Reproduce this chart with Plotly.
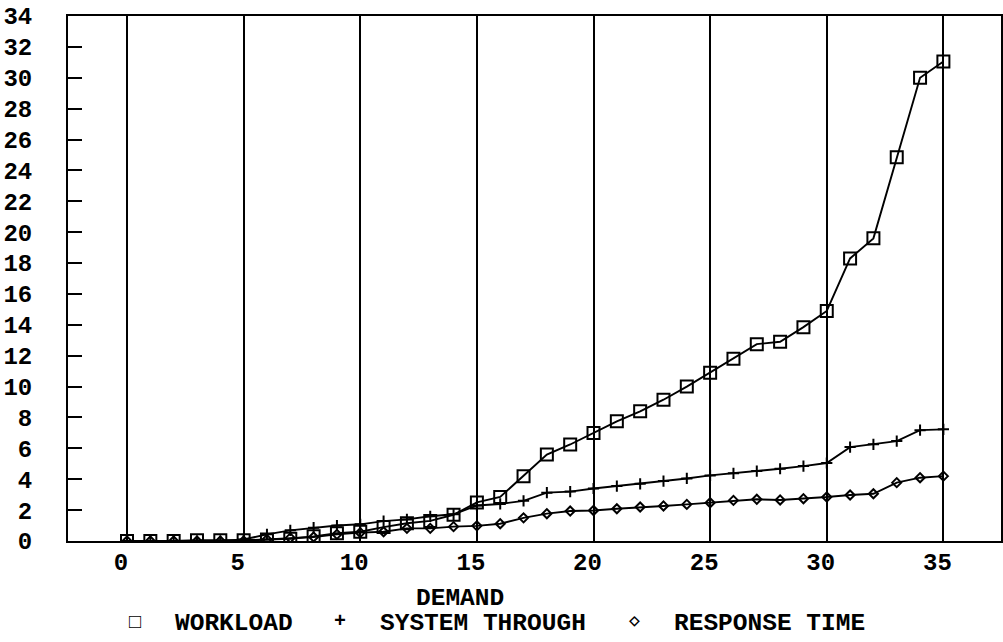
import plotly.graph_objects as go

# ---- data ----
demand = [0, 1, 2, 3, 4, 5, 6, 7, 8, 9, 10, 11, 12, 13, 14, 15, 16, 17,
          18, 19, 20, 21, 22, 23, 24, 25, 26, 27, 28, 29, 30, 31, 32, 33, 34, 35]

workload = [0.0, 0.0, 0.0, 0.05, 0.05, 0.05, 0.1, 0.15, 0.3, 0.5, 0.6, 0.9,
            1.15, 1.3, 1.7, 2.5, 2.85, 4.2, 5.6, 6.25, 7.0, 7.75, 8.4, 9.15,
            10.0, 10.9, 11.8, 12.75, 12.9, 13.85, 14.9, 18.3, 19.6, 24.85, 30.0, 31.05]

system_through = [0.0, 0.0, 0.0, 0.0, 0.0, 0.1, 0.43, 0.69, 0.86, 1.0, 1.08, 1.29,
                  1.4, 1.6, 1.73, 2.3, 2.4, 2.6, 3.13, 3.2, 3.4, 3.56, 3.7, 3.88,
                  4.05, 4.25, 4.38, 4.53, 4.68, 4.85, 5.05, 6.08, 6.26, 6.47, 7.18, 7.23]

response_time = [0.0, 0.0, 0.0, 0.0, 0.0, 0.0, 0.1, 0.2, 0.26, 0.43, 0.54, 0.6,
                 0.82, 0.82, 0.93, 0.98, 1.12, 1.5, 1.77, 1.94, 1.98, 2.09, 2.2, 2.27,
                 2.37, 2.48, 2.63, 2.7, 2.66, 2.74, 2.85, 2.98, 3.06, 3.78, 4.1, 4.2]

x_ticks = [0, 5, 10, 15, 20, 25, 30, 35]
y_ticks = [0, 2, 4, 6, 8, 10, 12, 14, 16, 18, 20, 22, 24, 26, 28, 30, 32, 34]

series_names = ["WORKLOAD", "SYSTEM THROUGH", "RESPONSE TIME"]
legend_glyphs = ["\u25a1", "+", "\u25c7"]

FONT = "Liberation Mono, Courier New, monospace"

fig = go.Figure()
fig.add_trace(go.Scatter(
    x=demand, y=workload, mode="lines+markers", name=series_names[0],
    line=dict(color="black", width=1.9),
    marker=dict(symbol="square-open", size=12, color="black", line=dict(width=2, color="black")),
))
fig.add_trace(go.Scatter(
    x=demand, y=system_through, mode="lines+markers", name=series_names[1],
    line=dict(color="black", width=1.9),
    marker=dict(symbol="cross-thin", size=8, color="black", line=dict(width=2, color="black")),
))
fig.add_trace(go.Scatter(
    x=demand, y=response_time, mode="lines+markers", name=series_names[2],
    line=dict(color="black", width=1.9),
    marker=dict(symbol="diamond-open", size=7, color="black", line=dict(width=2, color="black")),
))

W, H = 1003, 642
ml, mr, mt, mb = 68, 1.5, 16, 101
pw, ph = W - ml - mr, H - mt - mb

def px_x(p):
    return (p - ml) / pw

def px_y(p):
    return (H - mb - p) / ph

annos = [
    dict(text="DEMAND", x=px_x(460), y=px_y(598), xanchor="center", yanchor="middle"),
    dict(text=legend_glyphs[0], x=px_x(135), y=px_y(622), xanchor="center", yanchor="middle", size=20),
    dict(text=series_names[0], x=px_x(173), y=px_y(623), xanchor="left", yanchor="middle"),
    dict(text=legend_glyphs[1], x=px_x(340), y=px_y(621), xanchor="center", yanchor="middle", size=20),
    dict(text=series_names[1], x=px_x(378), y=px_y(623), xanchor="left", yanchor="middle"),
    dict(text=legend_glyphs[2], x=px_x(635), y=px_y(621), xanchor="center", yanchor="middle", size=18),
    dict(text=series_names[2], x=px_x(672), y=px_y(623), xanchor="left", yanchor="middle"),
]
for a in annos:
    size = a.pop("size", 24.5)
    fig.add_annotation(xref="paper", yref="paper", showarrow=False,
                       font=dict(family=FONT, size=size, color="black", weight="bold"), **a)

fig.update_layout(
    width=W, height=H,
    margin=dict(l=ml, r=mr, t=mt, b=mb, pad=0, autoexpand=False),
    paper_bgcolor="white", plot_bgcolor="white",
    showlegend=False,
    font=dict(family=FONT, size=24, color="black", weight="bold"),
)
fig.update_xaxes(
    range=[-2.53, 37.47], tickmode="array", tickvals=x_ticks,
    ticktext=[str(v) for v in x_ticks], automargin=False,
    showgrid=True, gridcolor="black", gridwidth=1.6,
    zeroline=False, showline=True, linecolor="black", linewidth=2, mirror=True,
    ticks="", ticklabelstandoff=-2, ticklabelshift=-6,
    tickfont=dict(family=FONT, size=24, color="black", weight="bold"),
)
fig.update_yaxes(
    range=[0, 34], tickmode="array", tickvals=y_ticks,
    ticktext=[str(v) for v in y_ticks], automargin=False,
    showgrid=False, zeroline=False, showline=True, linecolor="black", linewidth=2, mirror=True,
    ticks="inside", ticklen=14, tickwidth=2, tickcolor="black",
    ticklabelstandoff=29,
    tickfont=dict(family=FONT, size=24, color="black", weight="bold"),
)

# remove the default page margin so the figure fills the window exactly
fig.write_html("out.html",
               config={"displayModeBar": False},
               post_script="document.body.style.margin='0px';document.body.style.overflow='hidden';")
